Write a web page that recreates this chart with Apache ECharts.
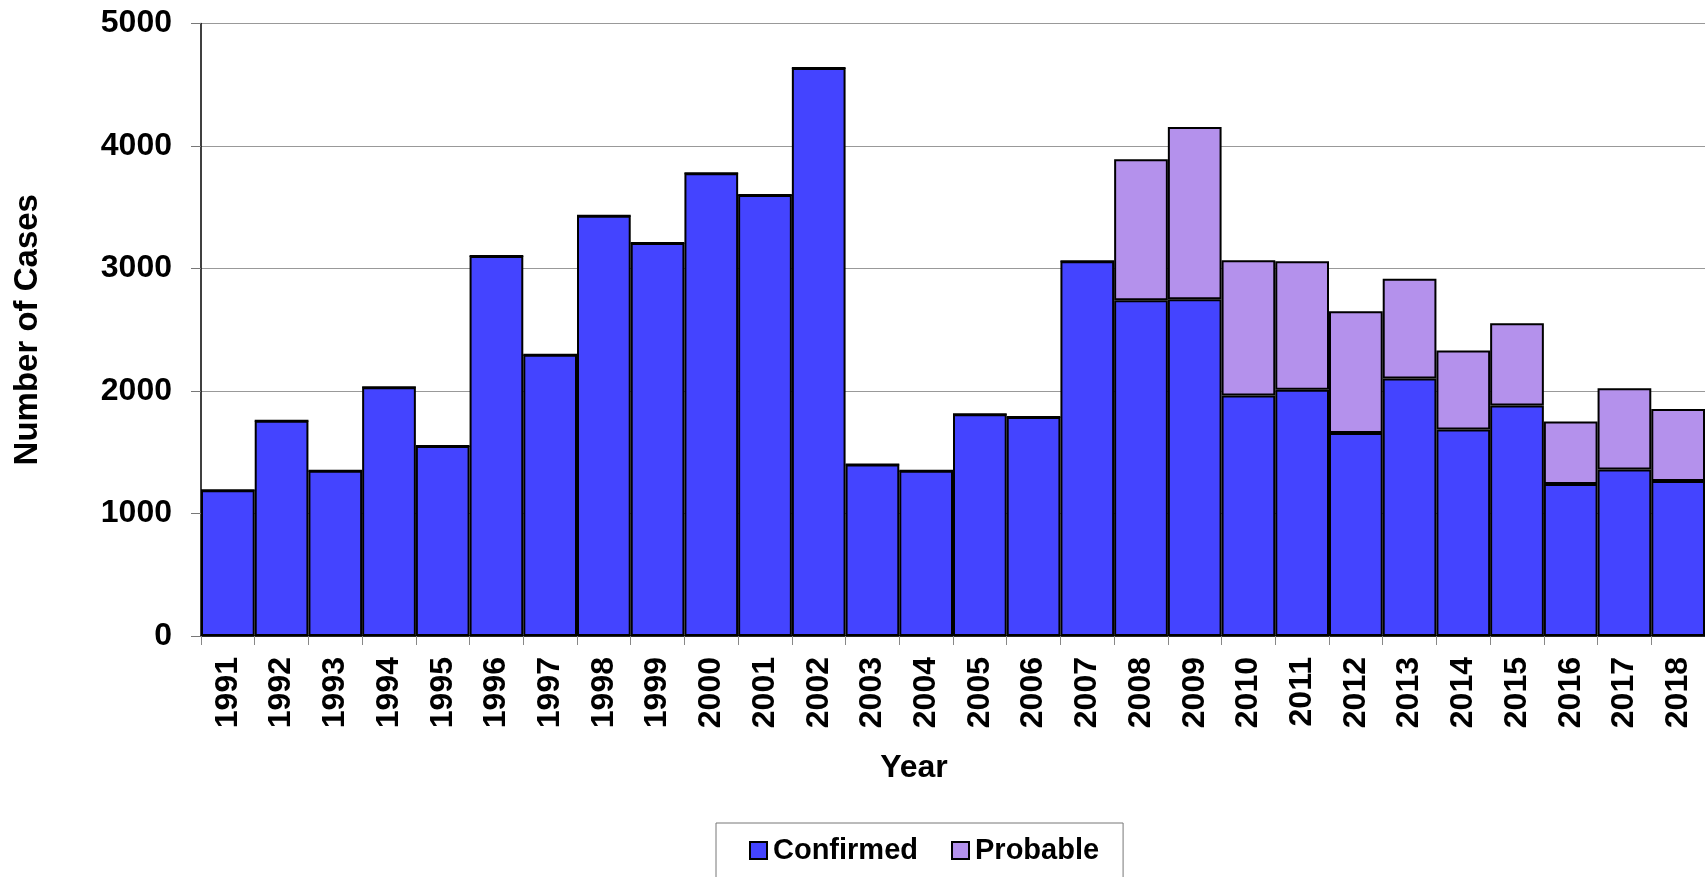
<!DOCTYPE html>
<html>
<head>
<meta charset="utf-8">
<script src="https://cdn.jsdelivr.net/npm/echarts@6/dist/echarts.min.js"></script>
<style>
html,body{margin:0;padding:0;background:#fff;}
#chart{width:1705px;height:877px;}
</style>
</head>
<body>
<div id="chart"></div>
<script>
var years = ['1991','1992','1993','1994','1995','1996','1997','1998','1999','2000','2001','2002','2003','2004','2005','2006','2007','2008','2009','2010','2011','2012','2013','2014','2015','2016','2017','2018'];
var confirmed = [1190,1758,1350,2030,1551,3103,2296,3431,3209,3777,3599,4637,1401,1348,1810,1788,3059,2740,2748,1963,2010,1657,2103,1686,1882,1240,1360,1266];
var probable = [0,0,0,0,0,0,0,0,0,0,0,0,0,0,0,0,0,1152,1407,1104,1049,994,814,644,671,512,662,587];
var yTicks = [0,1000,2000,3000,4000,5000];

var FONT = '"Liberation Sans", Arial, sans-serif';
var chart = echarts.init(document.getElementById('chart'));
chart.setOption({
  animation: false,
  backgroundColor: '#ffffff',
  grid: { left: 201, top: 23.5, width: 1508, height: 612.5, containLabel: false },
  legend: {
    left: 716, top: 823,
    width: 408,
    padding: [13, 24, 30, 33],
    itemGap: 33,
    itemWidth: 17, itemHeight: 17,
    borderColor: '#777', borderWidth: 1,
    icon: 'rect',
    itemStyle: { borderColor: '#000', borderWidth: 2 },
    textStyle: { fontFamily: FONT, fontWeight: 'bold', fontSize: 29, color: '#000', padding: [0,0,0,1] },
    data: ['Confirmed','Probable']
  },
  xAxis: {
    type: 'category',
    data: years,
    name: 'Year',
    nameLocation: 'middle',
    nameGap: 116,
    nameTextStyle: { fontFamily: FONT, fontWeight: 'bold', fontSize: 32, color: '#000', padding: [0, 78, 0, 0] },
    axisLine: { lineStyle: { color: '#000', width: 1.5 } },
    axisTick: { show: true, alignWithLabel: false, length: 9, lineStyle: { color: '#888', width: 1 } },
    axisLabel: { rotate: 90, margin: 21, fontFamily: FONT, fontWeight: 'bold', fontSize: 32, color: '#000', interval: 0 },
    splitLine: { show: false }
  },
  yAxis: {
    type: 'value',
    min: yTicks[0], max: yTicks[yTicks.length-1], interval: 1000,
    name: 'Number of Cases',
    nameLocation: 'middle',
    nameGap: 157,
    nameTextStyle: { fontFamily: FONT, fontWeight: 'bold', fontSize: 33, color: '#000' },
    axisLine: { show: true, lineStyle: { color: '#000', width: 1.5 } },
    axisTick: { show: true, length: 10, lineStyle: { color: '#777', width: 1 } },
    axisLabel: { margin: 29, fontFamily: FONT, fontWeight: 'bold', fontSize: 32, color: '#000',
      formatter: function (v) { return String(v); } },
    splitLine: { show: true, lineStyle: { color: '#999', width: 1 } }
  },
  series: [
    {
      name: 'Confirmed', type: 'bar', stack: 'cases',
      data: confirmed,
      barCategoryGap: '0%',
      itemStyle: { color: '#4444ff', borderColor: '#000', borderWidth: 2 }
    },
    {
      name: 'Probable', type: 'bar', stack: 'cases',
      data: probable,
      barCategoryGap: '0%',
      itemStyle: { color: '#b491ec', borderColor: '#000', borderWidth: 2 }
    }
  ]
});
</script>
</body>
</html>
